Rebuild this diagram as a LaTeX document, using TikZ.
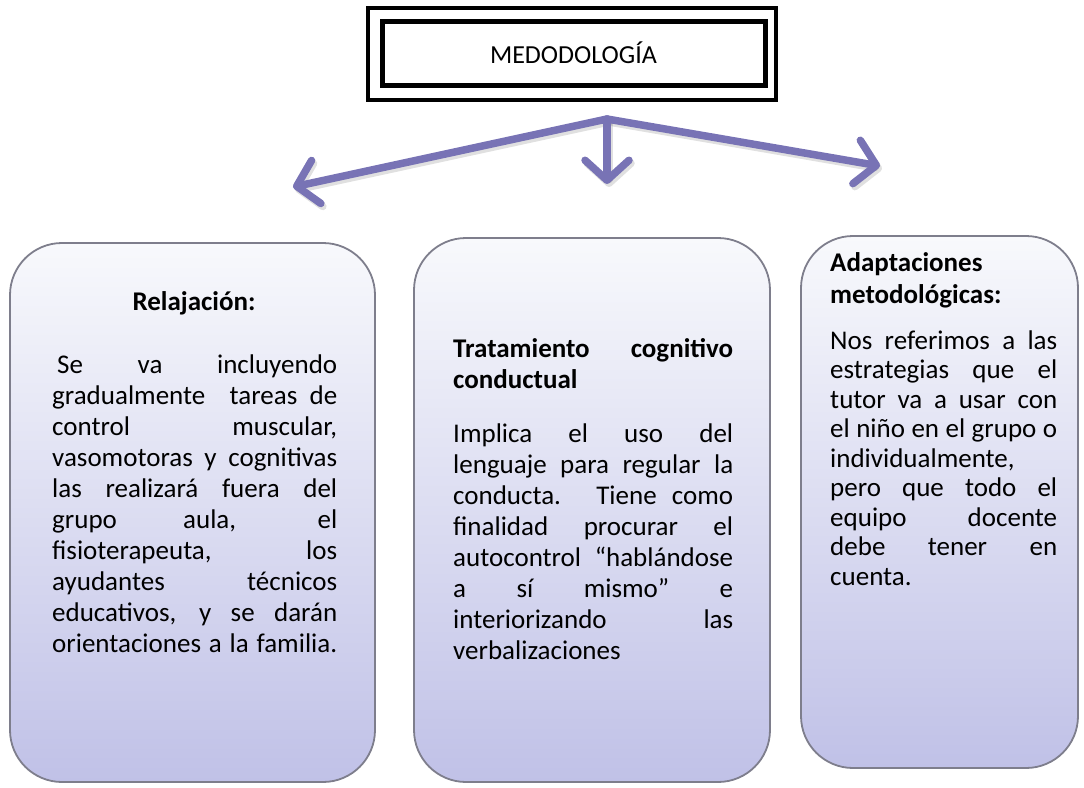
\documentclass[tikz,border=0pt]{standalone}
\usepackage{fontspec}
\setmainfont{Carlito}
\usetikzlibrary{arrows.meta}
\definecolor{arrowc}{HTML}{7873B5}
\definecolor{boxtop}{HTML}{F8F9FC}
\definecolor{boxbot}{HTML}{C0C1E7}
\definecolor{boxline}{HTML}{7E7E8C}
\newcommand{\jl}[1]{\makebox[\linewidth][s]{#1}\par}
\newcommand{\rl}[1]{\makebox[\linewidth][l]{#1}\par}
\newcommand{\bodyfont}{\fontsize{27}{31}\selectfont\setlength{\parindent}{0pt}}
\newcommand{\bodyfontR}{\fontsize{27}{29.5}\selectfont\setlength{\parindent}{0pt}}
\begin{document}
\begin{tikzpicture}[x=1pt,y=-1pt,
  card/.style={draw=boxline, line width=1.8pt, rounded corners=52pt,
    top color=boxtop, bottom color=boxbot, inner sep=0pt},
  txt/.style={inner sep=0pt, anchor=base west},
  arr/.style={draw=arrowc, line width=7.5pt, line cap=round, line join=round,
    -{Straight Barb[length=20pt,width=44pt,round]}},
  arrshadow/.style={arr, draw=black, opacity=0.12, transform canvas={shift={(2pt,-3pt)}}},
]
\useasboundingbox (0,0) rectangle (1084,787);

% title
\node (title) [draw, line width=5pt, minimum width=383pt, minimum height=64pt,
  font=\fontsize{26}{30}\selectfont] at (573.5,53) {MEDODOLOGÍA};
\draw[line width=4pt] ([shift={(-12pt,11pt)}]title.north west) rectangle ([shift={(8pt,-12pt)}]title.south east);

% arrows
\coordinate (apex) at (607,119);
\coordinate (tipL) at (293,187);
\coordinate (tipM) at (607,184);
\coordinate (tipR) at (880,166);
\draw[arrshadow] (apex) -- (tipL);
\draw[arrshadow] (apex) -- (tipM);
\draw[arrshadow] (apex) -- (tipR);
\draw[arr] (apex) -- (tipL);
\draw[arr] (apex) -- (tipM);
\draw[arr] (apex) -- (tipR);

% cards
\node (cardL) [card, minimum width=365pt, minimum height=539pt] at (192.5,512.5) {};
\node (cardM) [card, minimum width=356pt, minimum height=544pt] at (592,510) {};
\node (cardR) [card, minimum width=277pt, minimum height=532pt] at (939.5,502) {};

% left text
\node (tL) [inner sep=0pt, anchor=base, font=\bfseries\fontsize{27}{31}\selectfont] at (194,310) {Relajación:};
\node (bL) [txt] at (52,373) {\parbox[t]{285pt}{\bodyfont
\jl{\hspace{5pt}Se va incluyendo}
\jl{gradualmente\ \ tareas de}
\jl{control muscular,}
\jl{vasomotoras y cognitivas}
\jl{las realizará fuera del}
\jl{grupo aula, el}
\jl{fisioterapeuta, los}
\jl{ayudantes técnicos}
\jl{educativos, y se darán}
\jl{orientaciones a la familia.}}};

% middle text
\node (tM) [txt] at (453,357) {\parbox[t]{280pt}{\bodyfont\bfseries
\jl{Tratamiento cognitivo}
\rl{conductual}}};
\node (bM) [txt] at (453,442) {\parbox[t]{280pt}{\bodyfont
\jl{Implica el uso del}
\jl{lenguaje para regular la}
\jl{conducta. Tiene como}
\jl{finalidad procurar el}
\jl{autocontrol “hablándose}
\jl{a sí mismo” e}
\jl{interiorizando las}
\rl{verbalizaciones}}};

% right text
\node (tR) [txt] at (830,271) {\parbox[t]{227pt}{\fontsize{27}{32}\selectfont\setlength{\parindent}{0pt}\bfseries
\rl{Adaptaciones}
\rl{metodológicas:}}};
\node (bR) [txt] at (830,349) {\parbox[t]{227pt}{\bodyfontR
\jl{Nos referimos a las}
\jl{estrategias que el}
\jl{tutor va a usar con}
\jl{el niño en el grupo o}
\rl{individualmente,}
\jl{pero que todo el}
\jl{equipo docente}
\jl{debe tener en}
\rl{cuenta.}}};
\end{tikzpicture}
\end{document}
